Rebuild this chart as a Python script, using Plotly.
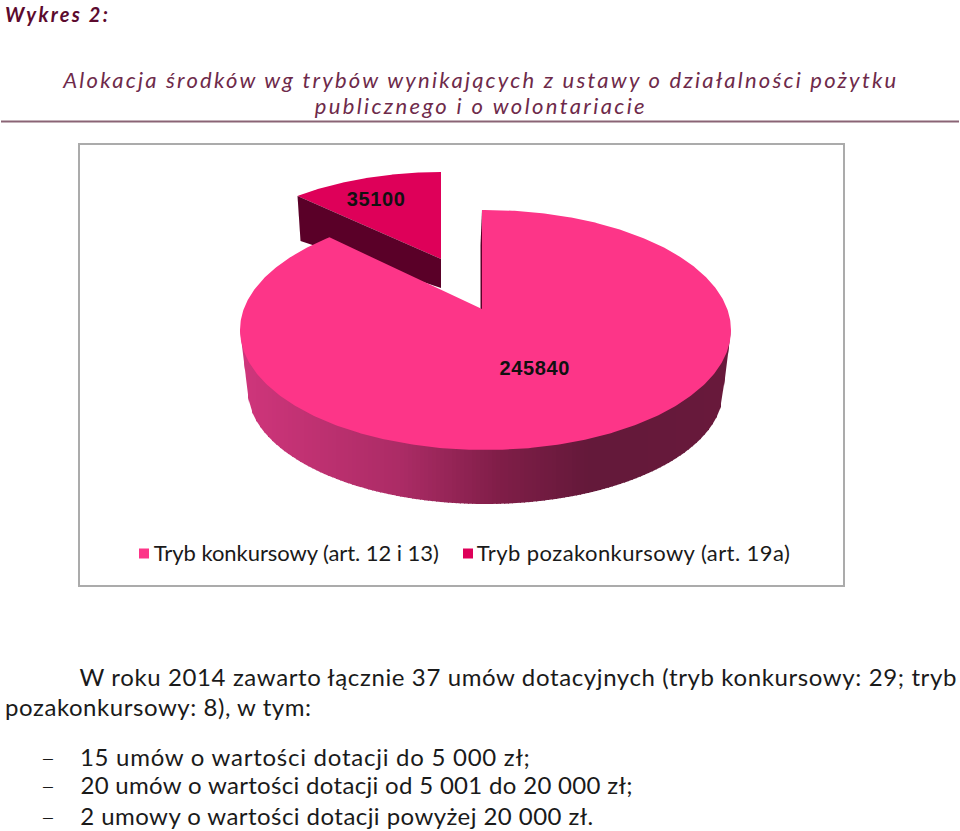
import json
import numpy as np
import plotly.graph_objects as go

# --- data
categories = ["Tryb konkursowy (art. 12 i 13)", "Tryb pozakonkursowy (art. 19a)"]
values = [245840, 35100]
slice_colors = ["#FD3588", "#DE0059"]
wall_dark = "#5A0028"

heading = "Wykres 2:"
title_lines = ["Alokacja środków wg trybów wynikających z ustawy o działalności pożytku",
               "publicznego i o wolontariacie"]
body_lines = ["W roku 2014 zawarto łącznie 37 umów dotacyjnych (tryb konkursowy: 29; tryb",
              "pozakonkursowy: 8), w tym:"]
list_lines = ["15 umów o wartości dotacji do 5 000 zł;",
              "20 umów o wartości dotacji od 5 001 do 20 000 zł;",
              "2 umowy o wartości dotacji powyżej 20 000 zł."]

FONT = "Lato"
fig = go.Figure()

# --- projected-pie helpers (angle comes from each value's share)
total = sum(values)
sweep = [360.0 * v / total for v in values]


def ray_to_ellipse(apex, centre, a, b, deg, fb):
    """Rim point hit by the ray leaving apex at pie angle deg."""
    t = np.radians(deg)
    dx, dy = np.sin(t) * a, -np.cos(t) * fb
    ox, oy = (apex[0] - centre[0]) / a, (apex[1] - centre[1]) / b
    ux, uy = dx / a, dy / b
    A, B, C = ux * ux + uy * uy, 2 * (ox * ux + oy * uy), ox * ox + oy * oy - 1
    s = (-B + np.sqrt(B * B - 4 * A * C)) / (2 * A)
    return apex[0] + s * dx, apex[1] + s * dy


def rim(apex, centre, a, b, d0, d1, n=200):
    pts = [ray_to_ellipse(apex, centre, a, b, d, b * 0.96) for d in np.linspace(d0, d1, n)]
    return [p[0] for p in pts], [p[1] for p in pts]


def poly(xs, ys, color, width=0):
    fig.add_trace(go.Scatter(x=list(xs), y=list(ys), mode="lines", fill="toself", fillcolor=color,
                             line=dict(color=color, width=width), hoverinfo="skip", showlegend=False))


# Geometry of the main disc
big_apex, big_c, big_a, big_b = (482.0, 309.0), (485.5, 330.0), 245.5, 120.0
low_c, low_a, low_b = (485.5, 390.0), 238.0, 114.0
# Geometry of the pulled-out slice
sm_scale = 0.88
sm_apex = (441.0, 259.0)
sm_c = (sm_apex[0] + (big_c[0] - big_apex[0]) * sm_scale, sm_apex[1] + (big_c[1] - big_apex[1]) * sm_scale)
sm_a, sm_b = big_a * 0.94, big_b * sm_scale

# pulled-out slice: top and wall
sx, sy = rim(sm_apex, sm_c, sm_a, sm_b, sweep[0], 360.0)
poly([sm_apex[0]] + sx, [sm_apex[1]] + sy, slice_colors[1])
poly([sx[0], sm_apex[0], sm_apex[0], sx[0] + 3], [sy[0], sm_apex[1], sm_apex[1] + 29, sy[0] + 45], wall_dark)

# main disc: side wall as shaded strips
stops_x = [240, 400, 500, 590, 731]
stops_r = [208, 172, 128, 100, 105]
stops_g = [54, 44, 30, 25, 25]
stops_b = [124, 102, 72, 58, 60]
edges = np.arange(240, 732, 4.0)
for x0 in edges:
    x1 = min(x0 + 5, 731)
    xs = np.array([x0, x1])
    u = big_c[1] + big_b * np.sqrt(np.clip(1 - ((xs - big_c[0]) / big_a) ** 2, 0, 1)) - 2
    lo = []
    for x in xs:
        k = (x - low_c[0]) / low_a
        if abs(k) <= 1:
            lo.append(low_c[1] + low_b * np.sqrt(1 - k * k))
        else:
            f = (abs(x - low_c[0]) - low_a) / (big_a - low_a)
            lo.append(low_c[1] + (big_c[1] - low_c[1]) * f)
    mid = x0 + 2
    col = "rgb(%d,%d,%d)" % (np.interp(mid, stops_x, stops_r), np.interp(mid, stops_x, stops_g),
                             np.interp(mid, stops_x, stops_b))
    poly([xs[0], xs[1], xs[1], xs[0]], [u[0], u[1], lo[1], lo[0]], col)

# thin wall visible on the cut of the main disc
bx, by = rim(big_apex, big_c, big_a, big_b, 0.0, sweep[0], 500)
poly([big_apex[0] - 1.5, big_apex[0], bx[0], bx[0] - 1.5], [big_apex[1], big_apex[1], by[0], by[0] + 35], wall_dark)
# main disc top
poly([big_apex[0]] + bx, [big_apex[1]] + by, slice_colors[0])

# legend swatches
fig.add_trace(go.Scatter(x=[144, 468], y=[553.5, 553.5], mode="markers", hoverinfo="skip", showlegend=False,
                         marker=dict(symbol="square", size=10, color=slice_colors, line=dict(width=0))))

texts = []


def txt(s, x0, x1, y, size, color="#1a1a1a", family=FONT, fit=True, **kw):
    fig.add_annotation(x=(x0 + x1) / 2, y=y, text=s, showarrow=False, xanchor="center", yanchor="middle",
                       font=dict(family=family, size=size, color=color), **kw)
    if fit:
        texts.append([s.replace("<b>", "").replace("</b>", "").replace("<i>", "").replace("</i>", ""), x1 - x0])


txt("<b><i>%s</i></b>" % heading, 5, 108, 14, 20, "#5C0A2E")
txt("<i>%s</i>" % title_lines[0], 62, 895, 79, 22, "#6E2A4A")
txt("<i>%s</i>" % title_lines[1], 314, 644, 105, 22, "#6E2A4A")
txt(categories[0], 154, 439, 552, 22)
txt(categories[1], 477, 790, 552, 22)
txt("<b>%s</b>" % values[1], 347, 405, 199, 20, "#111111", "Liberation Sans")
txt("<b>%s</b>" % values[0], 499, 569, 368, 20, "#111111", "Liberation Sans")
txt(body_lines[0], 79, 956, 676, 24)
txt(body_lines[1], 5, 311, 706, 24)
for s, x1, y in zip(list_lines, [530, 632, 593], [757, 785, 816]):
    txt(s, 80, x1, y - 1, 24)
    txt("—", 42, 54, y + 1, 15, fit=False)

fig.update_layout(
    width=960, height=831, margin=dict(l=0, r=0, t=0, b=0), paper_bgcolor="white", plot_bgcolor="white",
    xaxis=dict(range=[0, 960], visible=False, fixedrange=True),
    yaxis=dict(range=[831, 0], visible=False, fixedrange=True),
    shapes=[
        dict(type="line", x0=1, x1=959, y0=121.5, y1=121.5, line=dict(color="#8A6475", width=2), layer="below"),
        dict(type="rect", x0=79, x1=844, y0=144, y1=586, line=dict(color="#ABABAB", width=2),
             fillcolor="white", layer="below"),
    ],
)

post = """
document.body.style.margin='0';
var fit=%s;
document.querySelectorAll('.annotation-text').forEach(function(el){
  fit.forEach(function(f){ if(el.textContent===f[0]){ el.setAttribute('textLength',f[1]); el.setAttribute('lengthAdjust','spacing'); } });
});
""" % json.dumps(texts, ensure_ascii=False)
fig.write_html("out.html", post_script=post, config={"displayModeBar": False})
